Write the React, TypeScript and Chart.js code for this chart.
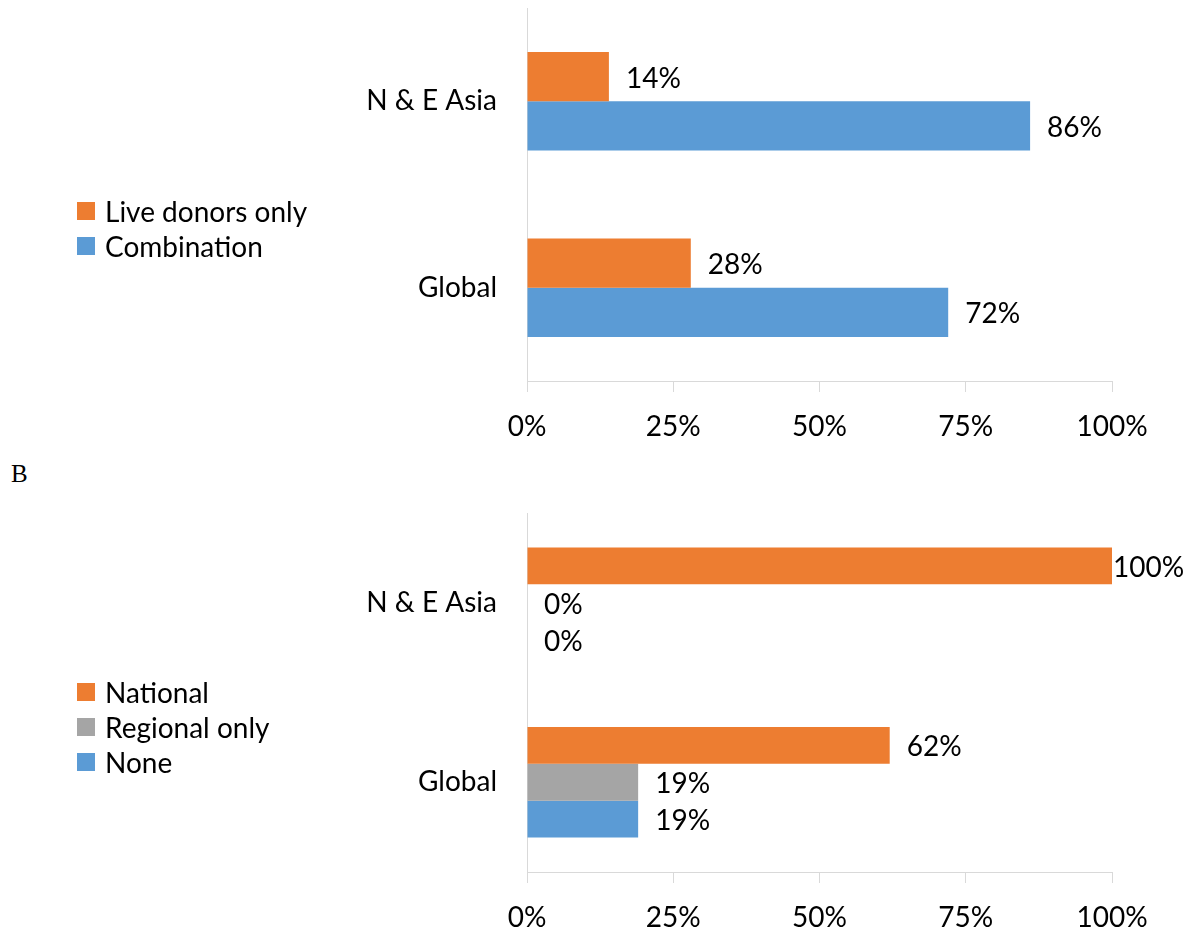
import React, { useEffect, useRef } from "react";
import { Chart, registerables } from "chart.js";

Chart.register(...registerables);

// ---- data ----
const categories = ["N & E Asia", "Global"];
const liveDonorsOnly = [14, 28];
const combination = [86, 72];
const national = [100, 62];
const regionalOnly = [0, 19];
const noneValues = [0, 19];
const xTickValues = [0, 25, 50, 75, 100];
const panelBLabel = "B";

const ORANGE = "#ED7D31";
const BLUE = "#5B9BD5";
const GREY = "#A5A5A5";
const FONT = "Lato, 'Open Sans', sans-serif";
const FONT_SIZE = 28;

const topSeries = [
  { label: "Live donors only", data: liveDonorsOnly, color: ORANGE },
  { label: "Combination", data: combination, color: BLUE },
];
const bottomSeries = [
  { label: "National", data: national, color: ORANGE },
  { label: "Regional only", data: regionalOnly, color: GREY },
  { label: "None", data: noneValues, color: BLUE },
];

const valueLabelPlugin = {
  id: "valueLabels",
  afterDatasetsDraw(chart: any, _args: any, opts: any) {
    const ctx = chart.ctx;
    ctx.save();
    ctx.font = `${FONT_SIZE}px ${FONT}`;
    ctx.fillStyle = "#000";
    ctx.textBaseline = "middle";
    ctx.textAlign = "left";
    const limit = opts.limitRight ?? chart.width;
    chart.data.datasets.forEach((ds: any, di: number) => {
      const meta = chart.getDatasetMeta(di);
      meta.data.forEach((el: any, i: number) => {
        const v = ds.data[i];
        const text = `${v}%`;
        const w = ctx.measureText(text).width;
        let x = el.x + 17;
        if (x + w > limit) x = el.x + 1;
        ctx.fillText(text, x, el.y + 2);
      });
    });
    ctx.restore();
  },
};

function makeConfig(
  series: { label: string; data: number[]; color: string }[],
  padTop: number,
  xAxisHeight: number,
  catPct: number
): any {
  return {
    type: "bar",
    data: {
      labels: categories,
      datasets: series.map((s) => ({
        label: s.label,
        data: s.data,
        backgroundColor: s.color,
        borderWidth: 0,
        barPercentage: 1,
        categoryPercentage: catPct,
      })),
    },
    options: {
      indexAxis: "y",
      animation: false,
      responsive: false,
      maintainAspectRatio: false,
      events: [],
      layout: { padding: { top: padTop, right: 83, left: 0, bottom: 0 } },
      plugins: {
        legend: { display: false },
        tooltip: { enabled: false },
        valueLabels: { limitRight: 1160 },
      },
      scales: {
        x: {
          type: "linear",
          min: 0,
          max: 100,
          afterBuildTicks: (s: any) => {
            s.ticks = xTickValues.map((v) => ({ value: v }));
          },
          afterFit: (s: any) => {
            s.height = xAxisHeight;
            s.paddingLeft = 0;
            s.paddingRight = 0;
          },
          ticks: {
            callback: (v: any) => `${v}%`,
            color: "#000",
            font: { family: FONT, size: FONT_SIZE },
            padding: 18,
            maxRotation: 0,
          },
          grid: {
            drawOnChartArea: false,
            drawTicks: true,
            tickLength: 11,
            color: "#D9D9D9",
            lineWidth: 1,
          },
          border: { display: true, color: "#D9D9D9", width: 1 },
        },
        y: {
          type: "category",
          afterFit: (s: any) => {
            s.width = 527;
            s.paddingTop = 0;
            s.paddingBottom = 0;
          },
          ticks: {
            color: "#000",
            font: { family: FONT, size: FONT_SIZE },
            padding: 30,
          },
          grid: { display: false, drawTicks: false, drawOnChartArea: false },
          border: { display: true, color: "#D9D9D9", width: 1 },
        },
      },
    },
    plugins: [valueLabelPlugin],
  };
}

function BarPanel(props: {
  series: { label: string; data: number[]; color: string }[];
  top: number;
  height: number;
  padTop: number;
  xAxisHeight: number;
  catPct: number;
  legendTop: number;
  legendGap: number;
}) {
  const ref = useRef<HTMLCanvasElement>(null);
  useEffect(() => {
    if (!ref.current) return;
    const chart = new Chart(
      ref.current,
      makeConfig(props.series, props.padTop, props.xAxisHeight, props.catPct)
    );
    return () => chart.destroy();
  }, []);
  return (
    <div
      style={{
        position: "absolute",
        left: 0,
        top: props.top,
        width: 1195,
        height: props.height,
      }}
    >
      <canvas
        ref={ref}
        width={1195}
        height={props.height}
        style={{ position: "absolute", left: 0, top: 0, width: 1195, height: props.height }}
      />
      {props.series.map((s, i) => (
        <div
          key={s.label}
          style={{
            position: "absolute",
            left: 77,
            top: props.legendTop + i * props.legendGap,
            height: 18,
            display: "flex",
            alignItems: "center",
            fontFamily: FONT,
            fontSize: FONT_SIZE,
            color: "#000",
            whiteSpace: "nowrap",
          }}
        >
          <span
            style={{
              display: "inline-block",
              width: 18,
              height: 18,
              background: s.color,
              marginRight: 10,
            }}
          />
          <span style={{ lineHeight: "18px" }}>{s.label}</span>
        </div>
      ))}
    </div>
  );
}

export default function App() {
  return (
    <div
      style={{
        position: "absolute",
        left: 0,
        top: 0,
        width: 1195,
        height: 933,
        background: "#fff",
        overflow: "hidden",
      }}
    >
      <BarPanel
        series={topSeries}
        top={0}
        height={455}
        padTop={8}
        xAxisHeight={74}
        catPct={0.527}
        legendTop={202}
        legendGap={34.5}
      />
      <div
        style={{
          position: "absolute",
          left: 11,
          top: 460,
          fontFamily: "'Liberation Serif', 'Times New Roman', serif",
          fontSize: 25,
          lineHeight: "28px",
          color: "#000",
        }}
      >
        {panelBLabel}
      </div>
      <BarPanel
        series={bottomSeries}
        top={455}
        height={478}
        padTop={58}
        xAxisHeight={61}
        catPct={0.615}
        legendTop={228}
        legendGap={35}
      />
    </div>
  );
}
